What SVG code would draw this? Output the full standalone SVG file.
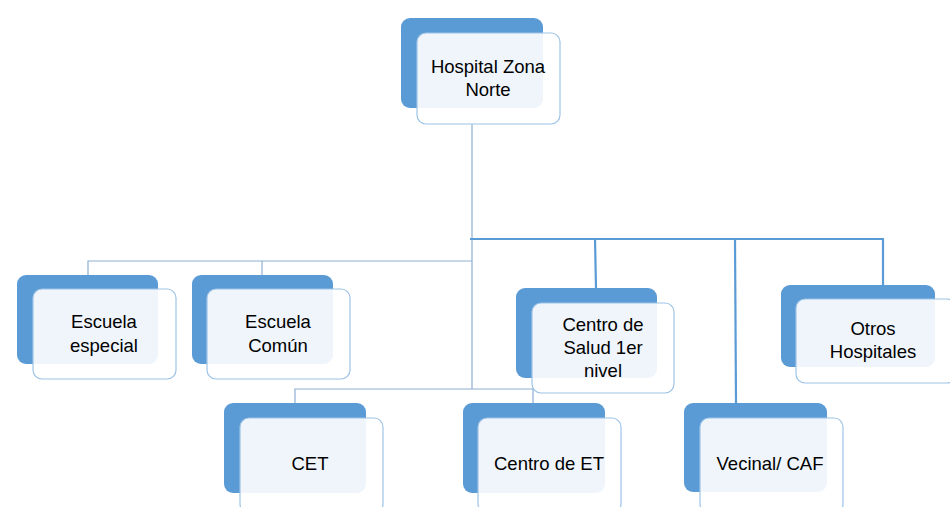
<svg xmlns="http://www.w3.org/2000/svg" width="950" height="507" viewBox="0 0 950 507">
<style>
.back{fill:#5B9BD5;}
.front{fill:#FFFFFF;fill-opacity:0.9;stroke:#9DC3E6;stroke-width:1.2;}
.t{font-family:"Liberation Sans",Arial,sans-serif;font-size:18.5px;fill:#000;text-anchor:middle;}
.thin{stroke:#8EAFD6;stroke-width:1.2;fill:none;}
.thick{stroke:#5B9BD5;stroke-width:2.2;fill:none;}
</style>
<rect width="950" height="507" fill="#FFFFFF"/>
<g id="connectors">
<line class="thin" x1="472" y1="124" x2="472" y2="389"/>
<polyline class="thin" points="88,275 88,261 472,261"/>
<line class="thin" x1="262" y1="261" x2="262" y2="275"/>
<polyline class="thin" points="295,403 295,389 533,389 533,403"/>
<line class="thick" x1="470" y1="239" x2="884" y2="239"/>
<line class="thick" x1="595" y1="239" x2="596" y2="288"/>
<line class="thick" x1="735" y1="239" x2="736" y2="403"/>
<line class="thick" x1="883" y1="239" x2="883" y2="285"/>
</g>
<g id="hospital-zona-norte">
<rect class="back" x="401" y="18" width="142" height="90" rx="9"/>
<rect class="front" x="417" y="33" width="143" height="91" rx="9"/>
<text class="t" x="488" y="73">Hospital Zona</text>
<text class="t" x="488" y="96">Norte</text>
</g>
<g id="escuela-especial">
<rect class="back" x="17" y="275" width="141" height="89" rx="9"/>
<rect class="front" x="33" y="289" width="143" height="90" rx="9"/>
<text class="t" x="104" y="328">Escuela</text>
<text class="t" x="104" y="352">especial</text>
</g>
<g id="escuela-comun">
<rect class="back" x="192" y="275" width="141" height="89" rx="9"/>
<rect class="front" x="207" y="289" width="143" height="90" rx="9"/>
<text class="t" x="278" y="328">Escuela</text>
<text class="t" x="278" y="352">Común</text>
</g>
<g id="centro-de-salud">
<rect class="back" x="516" y="288" width="141" height="90" rx="9"/>
<rect class="front" x="532" y="303" width="142" height="90" rx="9"/>
<text class="t" x="603" y="331">Centro de</text>
<text class="t" x="603" y="354">Salud 1er</text>
<text class="t" x="603" y="377">nivel</text>
</g>
<g id="otros-hospitales">
<rect class="back" x="781" y="285" width="154" height="82" rx="9"/>
<rect class="front" x="796" y="299" width="160" height="84" rx="9"/>
<text class="t" x="873" y="335">Otros</text>
<text class="t" x="873" y="358">Hospitales</text>
</g>
<g id="cet">
<rect class="back" x="224" y="403" width="142" height="90" rx="9"/>
<rect class="front" x="240" y="418" width="143" height="95" rx="9"/>
<text class="t" x="310" y="470">CET</text>
</g>
<g id="centro-de-et">
<rect class="back" x="463" y="403" width="142" height="90" rx="9"/>
<rect class="front" x="478" y="418" width="143" height="95" rx="9"/>
<text class="t" x="549" y="470">Centro de ET</text>
</g>
<g id="vecinal-caf">
<rect class="back" x="684" y="403" width="143" height="89" rx="9"/>
<rect class="front" x="700" y="418" width="143" height="95" rx="9"/>
<text class="t" x="770" y="470">Vecinal/ CAF</text>
</g>
</svg>
